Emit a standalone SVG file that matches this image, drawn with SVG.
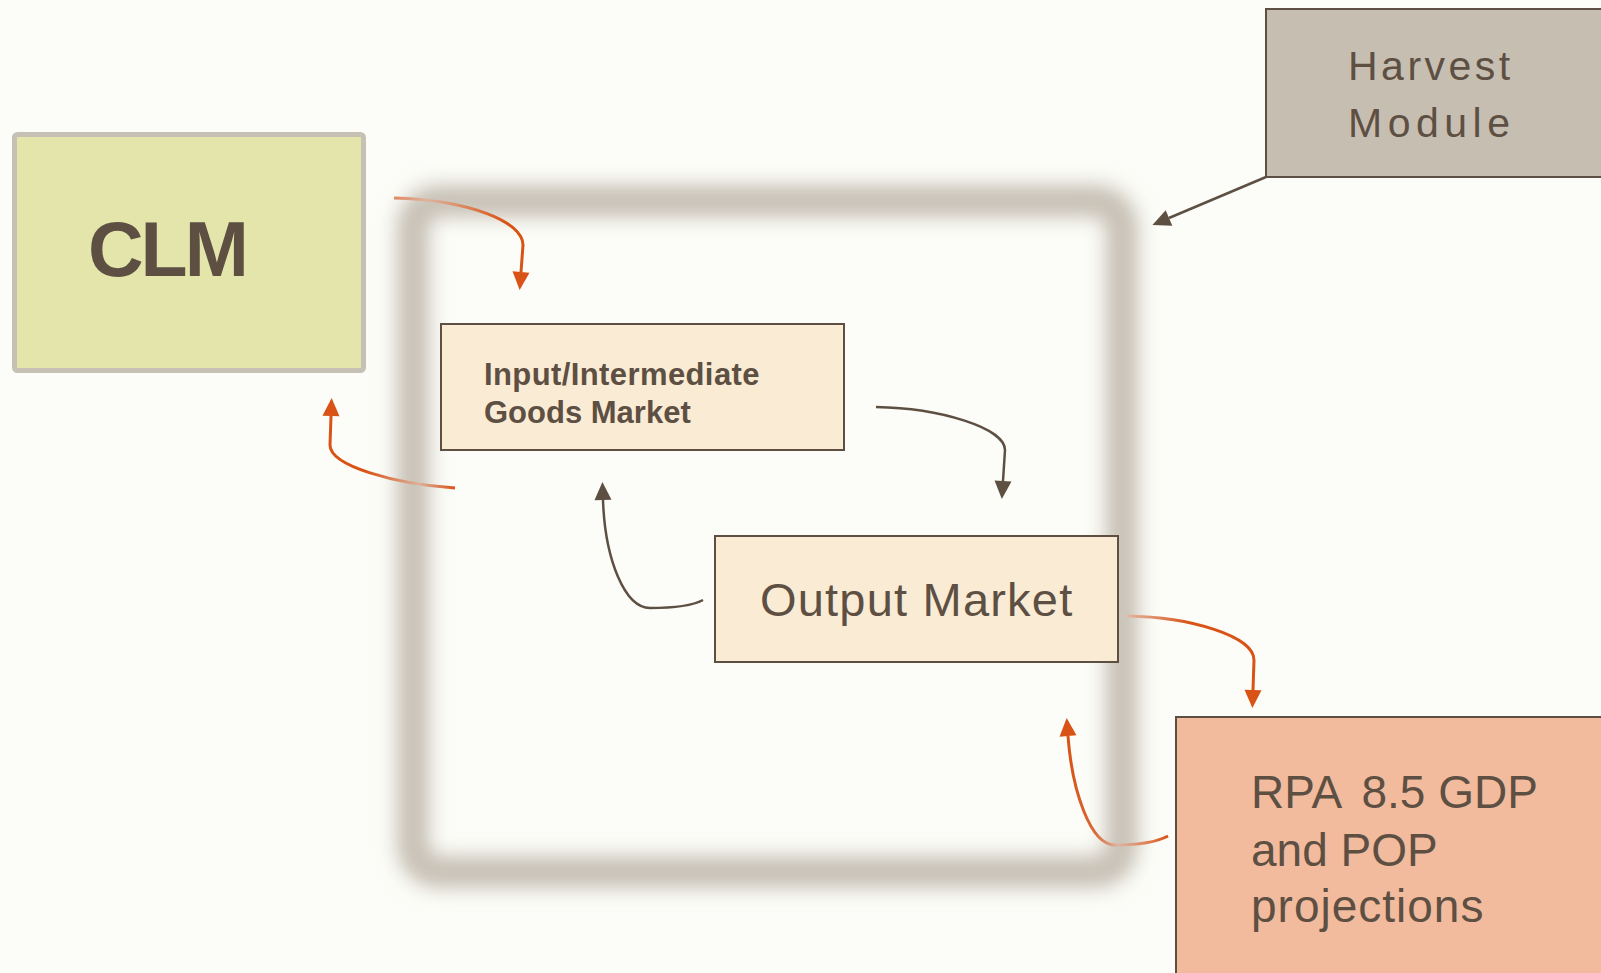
<svg xmlns="http://www.w3.org/2000/svg" width="1601" height="973" viewBox="0 0 1601 973">
  <style>
    .lbl { font-family: "Liberation Sans", Arial, sans-serif; fill: #5e4f43; }
    .mkt { fill: #faebd5; stroke: #5e4f43; stroke-width: 2; }
    .dark { fill: none; stroke: #5e4f43; stroke-width: 2.5; }
    .orng { fill: none; stroke-width: 3; }
  </style>
  <defs>
    <filter id="blur" x="-10%" y="-10%" width="120%" height="120%">
      <feGaussianBlur stdDeviation="10"/>
    </filter>
    <marker id="ahO" markerUnits="userSpaceOnUse" markerWidth="20" markerHeight="20" viewBox="0 -10 19 20" refX="0" refY="0" orient="auto">
      <path d="M0,-8.5 L18,0 L0,8.5 z" fill="#d95316"/>
    </marker>
    <marker id="ahD" markerUnits="userSpaceOnUse" markerWidth="20" markerHeight="20" viewBox="0 -10 19 20" refX="0" refY="0" orient="auto">
      <path d="M0,-8.5 L18,0 L0,8.5 z" fill="#5e4f43"/>
    </marker>
    <linearGradient id="g1" gradientUnits="userSpaceOnUse" x1="394" y1="0" x2="505" y2="0">
      <stop offset="0" stop-color="#e08a60"/>
      <stop offset="0.3" stop-color="#ddb5a0"/>
      <stop offset="1" stop-color="#d95316"/>
    </linearGradient>
    <linearGradient id="g2" gradientUnits="userSpaceOnUse" x1="455" y1="0" x2="365" y2="0">
      <stop offset="0" stop-color="#d95316"/>
      <stop offset="0.4" stop-color="#ddb09a"/>
      <stop offset="1" stop-color="#d95316"/>
    </linearGradient>
    <linearGradient id="g3" gradientUnits="userSpaceOnUse" x1="1127" y1="0" x2="1190" y2="0">
      <stop offset="0" stop-color="#e2b8a2"/>
      <stop offset="1" stop-color="#d95316"/>
    </linearGradient>
    <linearGradient id="g4" gradientUnits="userSpaceOnUse" x1="1168" y1="0" x2="1068" y2="0">
      <stop offset="0" stop-color="#d95316"/>
      <stop offset="0.25" stop-color="#de8a62"/>
      <stop offset="0.5" stop-color="#ddb5a2"/>
      <stop offset="0.72" stop-color="#d96a3a"/>
      <stop offset="1" stop-color="#d95316"/>
    </linearGradient>
  </defs>

  <rect width="1601" height="973" fill="#fcfdf8"/>

  <g id="frame">
    <rect x="413" y="201" width="709" height="671" rx="26" fill="none" stroke="#c6bfb4" stroke-width="32" filter="url(#blur)"/>
  </g>

  <g id="clm">
    <rect x="14.5" y="134.5" width="349" height="236" rx="3" fill="#e3e5ab" stroke="#c7c0b5" stroke-width="5"/>
    <text class="lbl" x="88" y="276" font-size="77" font-weight="bold" letter-spacing="-3">CLM</text>
  </g>

  <g id="input-market">
    <rect class="mkt" x="441" y="324" width="403" height="126"/>
    <text class="lbl" x="484" y="385" font-size="31" font-weight="bold" letter-spacing="0.4">Input/Intermediate</text>
    <text class="lbl" x="484" y="423" font-size="31" font-weight="bold">Goods Market</text>
  </g>

  <g id="output-market">
    <rect class="mkt" x="715" y="536" width="403" height="126"/>
    <text class="lbl" x="760" y="616" font-size="47" letter-spacing="1.2">Output Market</text>
  </g>

  <g id="harvest">
    <rect x="1266" y="9" width="345" height="168" fill="#c7beb2" stroke="#5e4f43" stroke-width="2"/>
    <text class="lbl" x="1348" y="80" font-size="41" letter-spacing="3.5">Harvest</text>
    <text class="lbl" x="1348" y="137" font-size="41" letter-spacing="5.5">Module</text>
  </g>

  <g id="rpa">
    <rect x="1176" y="717" width="440" height="270" fill="#f2bb9e" stroke="#5e4f43" stroke-width="2"/>
    <text class="lbl" x="1251" y="808" font-size="46">RPA <tspan dx="9">8.5 GDP</tspan></text>
    <text class="lbl" x="1251" y="866" font-size="46">and POP</text>
    <text class="lbl" x="1251" y="922" font-size="46" letter-spacing="1">projections</text>
  </g>

  <g id="connectors">
    <path class="orng" stroke="url(#g1)" d="M394,198 C470,200 523,222 523,245 L521,272" marker-end="url(#ahO)"/>
    <path class="orng" stroke="url(#g2)" d="M455,488 C395,484 330,466 330,445 L331,416" marker-end="url(#ahO)"/>
    <path class="dark" d="M876,407 C940,408 1005,428 1005,450 L1003,481" marker-end="url(#ahD)"/>
    <path class="dark" d="M703,600 C692,606 670,608 650,608 C625,608 605,560 603,500" marker-end="url(#ahD)"/>
    <path class="dark" d="M1266,177 L1169,218" marker-end="url(#ahD)"/>
    <path class="orng" stroke="url(#g3)" d="M1127,616 C1190,617 1254,636 1254,660 L1253,690" marker-end="url(#ahO)"/>
    <path class="orng" stroke="url(#g4)" d="M1168,836 C1155,843 1135,845 1115,845 C1090,845 1072,790 1068,736" marker-end="url(#ahO)"/>
  </g>
</svg>
